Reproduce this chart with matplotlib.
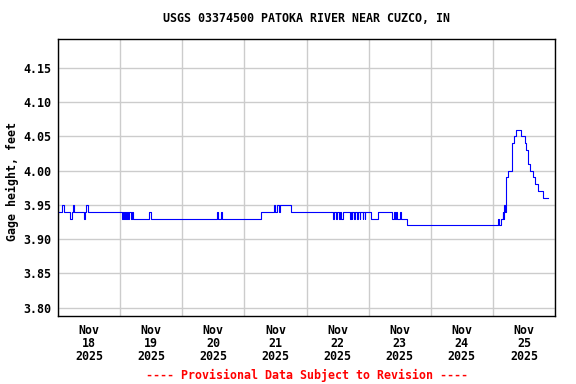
import numpy as np
import matplotlib
matplotlib.use('Agg')
import matplotlib.pyplot as plt

# gage height readings: hours since 2025-11-18 00:00 and value (step changes)
hours = [0.0, 1.5, 2.25, 4.75, 5.25, 5.75, 6.25, 10.0, 10.5, 10.75, 11.75,
         24.75, 25.0, 25.5, 25.75, 26.25, 26.5, 27.0, 27.5, 28.25, 28.5, 29.0,
         35.0, 35.75, 61.5, 62.0, 63.0, 63.5, 78.5, 83.5, 84.0, 84.75, 85.25,
         85.75, 90.0, 106.25, 106.5, 107.5, 107.75, 108.5, 108.75, 109.5, 110.0,
         112.75, 113.0, 113.5, 113.75, 114.5, 114.75, 115.5, 115.75, 116.5,
         116.75, 117.75, 118.0, 118.5, 118.75, 120.75, 123.5, 129.0, 129.75,
         130.0, 130.75, 131.0, 132.25, 132.5, 135.0, 170.0, 170.5, 171.25,
         171.75, 172.0, 172.25, 172.5, 173.0, 173.25, 173.75, 175.25, 175.5,
         176.0, 176.75, 179.0, 180.25, 180.75, 181.5, 181.75, 182.25, 183.5,
         184.25, 185.5, 187.25, 189.25]
gage = [3.94, 3.95, 3.94, 3.93, 3.94, 3.95, 3.94, 3.93, 3.94, 3.95, 3.94,
        3.93, 3.94, 3.93, 3.94, 3.93, 3.94, 3.93, 3.94, 3.93, 3.94, 3.93,
        3.94, 3.93, 3.94, 3.93, 3.94, 3.93, 3.94, 3.95, 3.94, 3.95, 3.94,
        3.95, 3.94, 3.93, 3.94, 3.93, 3.94, 3.93, 3.94, 3.93, 3.94,
        3.93, 3.94, 3.93, 3.94, 3.93, 3.94, 3.93, 3.94, 3.93,
        3.94, 3.93, 3.94, 3.93, 3.94, 3.93, 3.94, 3.93, 3.94,
        3.93, 3.94, 3.93, 3.94, 3.93, 3.92, 3.93, 3.92, 3.93,
        3.94, 3.93, 3.95, 3.94, 3.96, 3.99, 4.00, 4.03, 4.04,
        4.05, 4.06, 4.05, 4.04, 4.03, 4.02, 4.01, 4.00, 3.99,
        3.98, 3.97, 3.96, 3.96]

days = ['18', '19', '20', '21', '22', '23', '24', '25']
yticks = [3.80, 3.85, 3.90, 3.95, 4.00, 4.05, 4.10, 4.15]

start = np.datetime64('2025-11-18T00:00')
times = start + (np.array(hours) * 60).astype(int).astype('timedelta64[m]')

font = 'DejaVu Sans Mono'
fs = 8.4

fig = plt.figure(figsize=(5.76, 3.84), dpi=100)
ax = fig.add_axes([58/576, 1-316/384, (555-58)/576, (316-39)/384])

ax.plot(times, gage, color='#0000ff', lw=0.8, drawstyle='steps-post')

day_edges = start + np.arange(0, 9) * np.timedelta64(24, 'h')
noons = start + np.arange(0, 8) * np.timedelta64(24, 'h') + np.timedelta64(12, 'h')
ax.set_xlim(day_edges[0], day_edges[-1])
ax.set_xticks(day_edges)
ax.set_xticklabels([''] * len(day_edges))
ax.set_xticks(noons, minor=True)
ax.set_xticklabels(['Nov\n' + d + '\n2025' for d in days], minor=True,
                   fontfamily=font, fontweight='bold', fontsize=fs, linespacing=1.0)

ax.set_ylim(3.788, 4.192)
ax.set_yticks(yticks)
ax.set_yticklabels(['%.2f' % v for v in yticks], fontfamily=font,
                   fontweight='bold', fontsize=fs)

ax.tick_params(which='both', length=0)
ax.tick_params(axis='x', which='minor', pad=6)
ax.tick_params(axis='y', pad=5)
ax.grid(True, which='major', color='#cccccc', lw=1.0)
ax.set_axisbelow(True)
for s in ax.spines.values():
    s.set_color('black')
    s.set_linewidth(1.0)

ax.set_ylabel('Gage height, feet', fontfamily=font, fontweight='bold', fontsize=fs)
ax.yaxis.set_label_coords((19 - 58) / 497, 0.484)
fig.text(306.5/576, 1-19/384, 'USGS 03374500 PATOKA RIVER NEAR CUZCO, IN',
         ha='center', va='center', fontfamily=font, fontweight='bold', fontsize=fs)
fig.text(306.5/576, 1-375/384, '---- Provisional Data Subject to Revision ----',
         ha='center', va='center', color='red', fontfamily=font, fontweight='bold', fontsize=fs)

fig.savefig('out.png', dpi=100)
